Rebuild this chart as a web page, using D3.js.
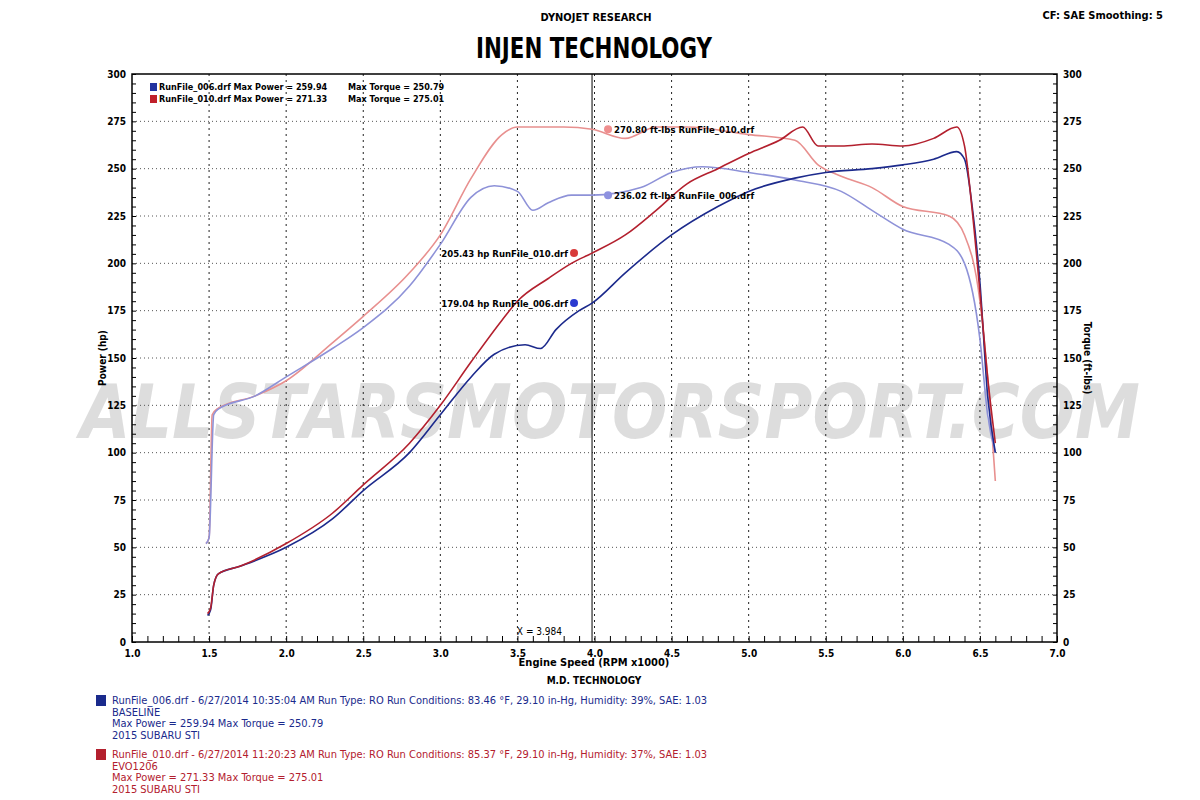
<!DOCTYPE html><html><head><meta charset="utf-8"><script src="https://cdn.jsdelivr.net/npm/d3@7"></script>
<style>body{margin:0;background:#fff}text{font-family:"DejaVu Sans Condensed","DejaVu Sans",sans-serif}</style></head><body><svg id="c" width="1200" height="800"></svg><script>
const rpmTicks=[1.0,1.5,2.0,2.5,3.0,3.5,4.0,4.5,5.0,5.5,6.0,6.5,7.0];
const yTicks=[0,25,50,75,100,125,150,175,200,225,250,275,300];
const powerRed=[[1.49,15],[1.51,18],[1.53,30],[1.56,36],[1.7,40],[2.0,52],[2.3,68],[2.5,83],[2.8,105],[3.0,125],[3.2,148],[3.4,170],[3.5,180],[3.7,192],[3.85,200],[3.984,205.4],[4.2,215],[4.4,228],[4.6,242],[4.8,250],[5.0,258],[5.2,265],[5.35,272],[5.45,262],[5.6,262],[5.8,263],[6.0,262],[6.2,266],[6.35,272],[6.4,262],[6.45,228],[6.5,185],[6.55,140],[6.6,105]];
const powerBlue=[[1.49,14],[1.51,17],[1.53,30],[1.56,36],[1.7,40],[2.0,50],[2.3,65],[2.5,80],[2.8,100],[3.0,120],[3.2,140],[3.35,152],[3.55,157],[3.65,155],[3.75,165],[3.9,175],[3.984,179],[4.2,195],[4.5,215],[4.8,230],[5.0,238],[5.3,245],[5.5,248],[5.8,250],[6.0,252],[6.2,255],[6.35,259],[6.4,255],[6.45,230],[6.5,190],[6.55,130],[6.6,100]];
const torqueRed=[[1.48,52],[1.5,55],[1.52,120],[1.55,123],[1.8,130],[2.0,138],[2.3,158],[2.5,172],[2.8,195],[3.0,215],[3.2,245],[3.4,268],[3.5,272],[3.8,272],[3.984,270.8],[4.2,266],[4.4,272],[4.6,272],[5.0,268],[5.3,265],[5.45,252],[5.6,246],[5.8,240],[6.0,230],[6.3,225],[6.4,215],[6.5,180],[6.55,140],[6.6,85]];
const torqueBlue=[[1.48,52],[1.5,55],[1.53,120],[1.56,123],[1.8,130],[2.0,140],[2.3,155],[2.5,166],[2.8,188],[3.0,210],[3.2,235],[3.35,241],[3.5,238],[3.6,228],[3.7,232],[3.85,236],[3.984,236],[4.3,240],[4.5,248],[4.7,251],[5.0,248],[5.3,244],[5.6,238],[5.8,228],[6.0,218],[6.3,210],[6.4,200],[6.5,160],[6.55,120],[6.6,100]];
const svg=d3.select("#c");
const x=d3.scaleLinear().domain([1,7]).range([132,1057]);
const y=d3.scaleLinear().domain([0,300]).range([642,74]);
svg.append("text").attr("x",610).attr("y",438).attr("text-anchor","middle").attr("font-size",74).attr("font-weight","bold").attr("font-style","italic").attr("fill","#c8c8c8").attr("opacity",0.6).attr("textLength",1060).attr("lengthAdjust","spacingAndGlyphs").text("ALLSTARSMOTORSPORT.COM");
rpmTicks.slice(1,-1).forEach(t=>svg.append("line").attr("x1",x(t)).attr("x2",x(t)).attr("y1",74).attr("y2",642).attr("stroke","#222").attr("stroke-dasharray","2,4"));
yTicks.slice(1,-1).forEach(t=>svg.append("line").attr("x1",132).attr("x2",1057).attr("y1",y(t)).attr("y2",y(t)).attr("stroke","#555").attr("stroke-dasharray","1,3"));
svg.append("rect").attr("x",132).attr("y",74).attr("width",925).attr("height",568).attr("fill","none").attr("stroke","#000").attr("stroke-width",1.5);
svg.append("g").attr("transform","translate(0,642)").call(d3.axisBottom(x).tickValues(rpmTicks).tickFormat(d3.format(".1f")).tickSize(0).tickPadding(8)).call(g=>{g.select(".domain").remove();g.selectAll("text").attr("font-size",10).attr("font-weight","bold")});
svg.append("g").attr("transform","translate(0,642)").call(d3.axisTop(x).ticks(60).tickFormat("").tickSize(6)).select(".domain").remove();
svg.append("g").attr("transform","translate(132,0)").call(d3.axisLeft(y).tickValues(yTicks).tickSize(0).tickPadding(6)).call(g=>{g.select(".domain").remove();g.selectAll("text").attr("font-size",10).attr("font-weight","bold")});
svg.append("g").attr("transform","translate(1057,0)").call(d3.axisRight(y).tickValues(yTicks).tickSize(0).tickPadding(6)).call(g=>{g.select(".domain").remove();g.selectAll("text").attr("font-size",10).attr("font-weight","bold")});
[132,1057].forEach(px=>svg.append("g").attr("transform",`translate(${px},0)`).call(d3.axisRight(y).ticks(60).tickFormat("").tickSize(px==132?4:-4)).select(".domain").remove());
svg.append("line").attr("x1",x(3.984)).attr("x2",x(3.984)).attr("y1",74).attr("y2",642).attr("stroke","#000");
svg.append("text").attr("x",x(3.984)-30).attr("y",635).attr("text-anchor","end").attr("font-size",10).text("X = 3.984");
const line=d3.line().x(d=>x(d[0])).y(d=>y(d[1])).curve(d3.curveMonotoneX);
[[torqueRed,"#e8908f"],[torqueBlue,"#8e92d8"],[powerBlue,"#1c2a8c"],[powerRed,"#b3202e"]].forEach(([d,c])=>svg.append("path").attr("d",line(d)).attr("fill","none").attr("stroke",c).attr("stroke-width",1.6));
const marks=[[205.43,"#d83a3a","205.43 hp RunFile_010.drf","end"],[179.04,"#2a3ad0","179.04 hp RunFile_006.drf","end"],[270.80,"#ef8e8e","270.80 ft-lbs RunFile_010.drf","start"],[236.02,"#8e92e0","236.02 ft-lbs RunFile_006.drf","start"]];
marks.forEach(([v,c,t,a])=>{const cx=a=="end"?x(3.984)-18:x(3.984)+16;svg.append("circle").attr("cx",cx).attr("cy",y(v)).attr("r",4).attr("fill",c);
svg.append("text").attr("x",a=="end"?cx-6:cx+6).attr("y",y(v)+3.5).attr("text-anchor",a).attr("font-size",9.5).attr("font-weight","bold").text(t);});
[["#2233a0","RunFile_006.drf Max Power = 259.94","Max Torque = 250.79",90],["#c0202a","RunFile_010.drf Max Power = 271.33","Max Torque = 275.01",102]].forEach(([c,a,b,yy])=>{svg.append("rect").attr("x",150).attr("y",yy-7).attr("width",7).attr("height",8).attr("fill",c);
svg.append("text").attr("x",159).attr("y",yy).attr("font-size",9).attr("font-weight","bold").text(a);svg.append("text").attr("x",348).attr("y",yy).attr("font-size",9).attr("font-weight","bold").text(b);});
svg.append("text").attr("x",596).attr("y",21).attr("text-anchor","middle").attr("font-size",11).attr("font-weight","bold").text("DYNOJET RESEARCH");
svg.append("text").attr("x",1163).attr("y",19).attr("text-anchor","end").attr("font-size",11).attr("font-weight","bold").text("CF: SAE  Smoothing: 5");
svg.append("text").attr("x",594).attr("y",58).attr("text-anchor","middle").attr("font-size",28).attr("font-weight","900").attr("textLength",236).attr("lengthAdjust","spacingAndGlyphs").text("INJEN TECHNOLOGY");
svg.append("text").attr("x",594).attr("y",666).attr("text-anchor","middle").attr("font-size",11).attr("font-weight","bold").text("Engine Speed (RPM x1000)");
svg.append("text").attr("x",594).attr("y",684).attr("text-anchor","middle").attr("font-size",10).attr("font-weight","900").text("M.D. TECHNOLOGY");
svg.append("text").attr("transform","translate(106,358) rotate(-90)").attr("text-anchor","middle").attr("font-size",10).attr("font-weight","bold").text("Power (hp)");
svg.append("text").attr("transform","translate(1084,358) rotate(90)").attr("text-anchor","middle").attr("font-size",10).attr("font-weight","bold").text("Torque (ft-lbs)");
const runs=[["#1a2a8c",704,["RunFile_006.drf - 6/27/2014 10:35:04 AM  Run Type: RO  Run Conditions: 83.46 °F, 29.10 in-Hg,  Humidity:  39%, SAE: 1.03","BASELINE","Max Power = 259.94  Max Torque = 250.79","2015 SUBARU STI"]],["#b3202e",758,["RunFile_010.drf - 6/27/2014 11:20:23 AM  Run Type: RO  Run Conditions: 85.37 °F, 29.10 in-Hg,  Humidity:  37%, SAE: 1.03","EVO1206","Max Power = 271.33  Max Torque = 275.01","2015 SUBARU STI"]]];
runs.forEach(([c,y0,ls])=>{svg.append("rect").attr("x",96).attr("y",y0-9).attr("width",10).attr("height",11).attr("fill",c);
ls.forEach((l,i)=>svg.append("text").attr("x",112).attr("y",y0+i*11.5).attr("font-family","'Liberation Sans Narrow','Liberation Sans',Arial").attr("font-size",11).attr("fill",c).text(l));});
</script></body></html>
